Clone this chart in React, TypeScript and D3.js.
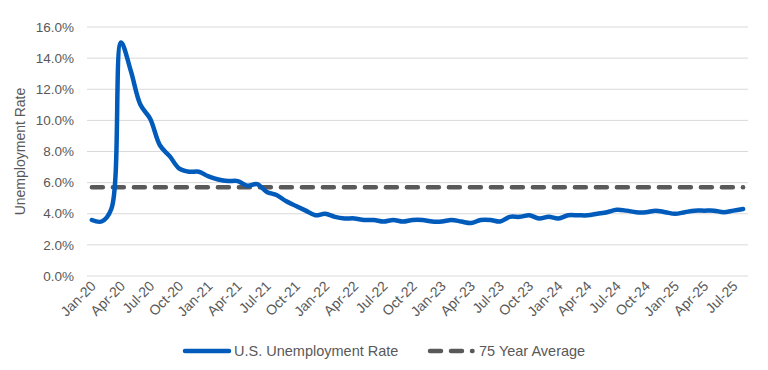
import React from "react";
import * as d3 from "d3";

const months = [
  "Jan-20","Feb-20","Mar-20","Apr-20","May-20","Jun-20","Jul-20","Aug-20","Sep-20","Oct-20","Nov-20","Dec-20",
  "Jan-21","Feb-21","Mar-21","Apr-21","May-21","Jun-21","Jul-21","Aug-21","Sep-21","Oct-21","Nov-21","Dec-21",
  "Jan-22","Feb-22","Mar-22","Apr-22","May-22","Jun-22","Jul-22","Aug-22","Sep-22","Oct-22","Nov-22","Dec-22",
  "Jan-23","Feb-23","Mar-23","Apr-23","May-23","Jun-23","Jul-23","Aug-23","Sep-23","Oct-23","Nov-23","Dec-23",
  "Jan-24","Feb-24","Mar-24","Apr-24","May-24","Jun-24","Jul-24","Aug-24","Sep-24","Oct-24","Nov-24","Dec-24",
  "Jan-25","Feb-25","Mar-25","Apr-25","May-25","Jun-25","Jul-25","Aug-25",
];

const unemploymentRate = [
  3.6, 3.5, 4.3, 15.0, 13.2, 11.0, 10.1, 8.4, 7.7, 6.9, 6.7, 6.7,
  6.4, 6.2, 6.1, 6.1, 5.8, 5.9, 5.4, 5.2, 4.8, 4.5, 4.2, 3.9,
  4.0, 3.8, 3.7, 3.7, 3.6, 3.6, 3.5, 3.6, 3.5, 3.6, 3.6, 3.5,
  3.5, 3.6, 3.5, 3.4, 3.6, 3.6, 3.5, 3.8, 3.8, 3.9, 3.7, 3.8,
  3.7, 3.9, 3.9, 3.9, 4.0, 4.1, 4.25, 4.2, 4.1, 4.1, 4.2, 4.1,
  4.0, 4.1, 4.2, 4.2, 4.2, 4.1, 4.2, 4.3,
];

const seventyFiveYearAverage = 5.7;

const yTicks = [0, 2, 4, 6, 8, 10, 12, 14, 16];

const seriesNames = ["U.S. Unemployment Rate", "75 Year Average"];

const W = 768;
const H = 370;
const plotLeft = 87;
const plotRight = 748;
const plotTop = 27;
const plotBottom = 276;

const textColor = "#595959";
const blue = "#005BBB";
const gray = "#595959";
const font = "'Liberation Sans', Arial, sans-serif";

export default function App() {
  const x = d3
    .scalePoint<string>()
    .domain(months)
    .range([plotLeft, plotRight])
    .padding(0.5);
  const y = d3.scaleLinear().domain([0, 16]).range([plotBottom, plotTop]);

  const line = d3
    .line<number>()
    .x((_, i) => x(months[i]) as number)
    .y((d) => y(d))
    .curve(d3.curveCatmullRom.alpha(0.5));

  const avgPath = d3
    .line<string>()
    .x((m) => x(m) as number)
    .y(() => y(seventyFiveYearAverage))([months[0], months[months.length - 1]]);

  const xLabels = months.filter((_, i) => i % 3 === 0);

  return (
    <svg
      width={W}
      height={H}
      style={{ position: "absolute", left: 0, top: 0, background: "#fff" }}
      fontFamily={font}
    >
      <rect width={W} height={H} fill="#fff" />
      {yTicks.map((t) => (
        <g key={t}>
          <line
            x1={plotLeft}
            x2={plotRight}
            y1={y(t)}
            y2={y(t)}
            stroke="#d9d9d9"
            strokeWidth={1}
          />
          <text
            x={74}
            y={y(t)}
            dy="0.35em"
            textAnchor="end"
            fontSize={13.5}
            fill={textColor}
          >
            {t.toFixed(1) + "%"}
          </text>
        </g>
      ))}
      <text
        transform={`translate(25, ${(plotTop + plotBottom) / 2}) rotate(-90)`}
        textAnchor="middle"
        fontSize={14}
        fill={textColor}
      >
        Unemployment Rate
      </text>
      {xLabels.map((m) => (
        <text
          key={m}
          transform={`translate(${(x(m) as number) + 5}, 287) rotate(-45)`}
          textAnchor="end"
          fontSize={14}
          fill={textColor}
        >
          {m}
        </text>
      ))}
      <path
        d={avgPath || ""}
        fill="none"
        stroke={gray}
        strokeWidth={4.5}
        strokeDasharray="11 10"
        strokeLinecap="round"
      />
      <path
        d={line(unemploymentRate) || ""}
        fill="none"
        stroke={blue}
        strokeWidth={4.5}
        strokeLinejoin="round"
        strokeLinecap="round"
      />
      {/* legend */}
      <line x1={185} x2={229} y1={351} y2={351} stroke={blue} strokeWidth={4.5} strokeLinecap="round" />
      <text x={234} y={355.5} fontSize={14.5} fill={textColor}>
        {seriesNames[0]}
      </text>
      <line
        x1={430}
        x2={472.5}
        y1={351}
        y2={351}
        stroke={gray}
        strokeWidth={4.5}
        strokeDasharray="11 10"
        strokeLinecap="round"
      />
      <text x={479} y={355.5} fontSize={14.5} fill={textColor}>
        {seriesNames[1]}
      </text>
    </svg>
  );
}
